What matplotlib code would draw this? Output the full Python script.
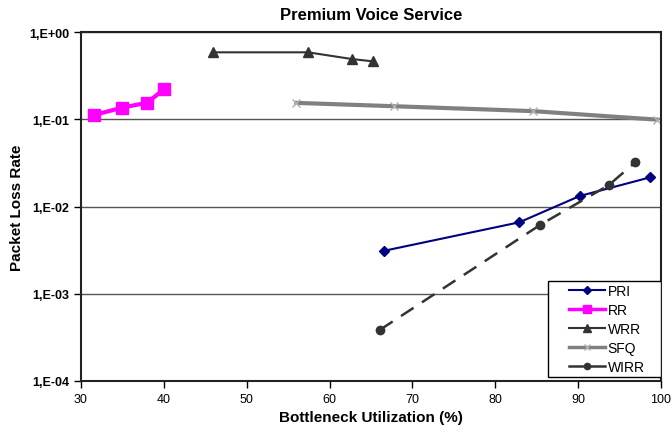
import matplotlib
matplotlib.use('Agg')
import matplotlib.pyplot as plt
from matplotlib.patches import Rectangle
from matplotlib.ticker import FixedLocator, FixedFormatter, NullLocator

plt.rcParams['font.family'] = ['Liberation Sans', 'DejaVu Sans']

# data
pri_x = [66.6, 82.9, 90.2, 98.7]
pri_y = [0.00311, 0.00659, 0.0132, 0.0216]
rr_x = [31.6, 35.0, 38.0, 40.0]
rr_y = [0.112, 0.136, 0.155, 0.220]
wrr_x = [45.9, 57.4, 62.7, 65.2]
wrr_y = [0.585, 0.585, 0.49, 0.461]
sfq_x = [56.0, 67.8, 84.5, 99.5]
sfq_y = [0.154, 0.141, 0.124, 0.099]
wirr_x = [66.1, 85.4, 93.7, 96.9]
wirr_y = [0.000387, 0.00614, 0.0176, 0.0321]

yticks = [1e-4, 1e-3, 1e-2, 1e-1, 1e0]
ylabels = ['1,E-04', '1,E-03', '1,E-02', '1,E-01', '1,E+00']
xticks = [30, 40, 50, 60, 70, 80, 90, 100]

fig = plt.figure(figsize=(6.72, 4.39), dpi=100)
ax = fig.add_axes([81/672, 1-382/439, 580/672, 349/439])

ax.plot(pri_x, pri_y, color='#000080', marker='D', ms=5, lw=1.5, label='PRI')
ax.plot(rr_x, rr_y, color='#FF00FF', marker='s', ms=8, lw=3, label='RR')
ax.plot(wrr_x, wrr_y, color='#333333', marker='^', ms=7, lw=1.5, label='WRR')
ax.plot(sfq_x, sfq_y, color='#808080', marker='x', ms=6, mec='#B0B0B0', lw=3, label='SFQ')
ax.plot(wirr_x, wirr_y, color='#333333', marker='o', ms=6, lw=1.8, dashes=(6, 4), label='WIRR')

ax.set_yscale('log')
ax.set_ylim(1e-4, 1)
ax.set_xlim(30, 100)
ax.yaxis.set_major_locator(FixedLocator(yticks))
ax.yaxis.set_major_formatter(FixedFormatter(ylabels))
ax.yaxis.set_minor_locator(NullLocator())
ax.set_xticks(xticks)
ax.grid(axis='y', color='#555555', lw=1)
for lbl in ax.get_yticklabels():
    lbl.set_fontweight('bold')
ax.tick_params(labelsize=9, direction='out', length=5, width=1)
for s in ax.spines.values():
    s.set_linewidth(1.5)
    s.set_color('#222222')

ax.set_title('Premium Voice Service', fontsize=12, fontweight='bold', pad=9)
ax.set_xlabel('Bottleneck Utilization (%)', fontsize=11, fontweight='bold')
ax.set_ylabel('Packet Loss Rate', fontsize=11, fontweight='bold')

# legend box drawn by hand so it can be as wide as the Excel one
ax.add_patch(Rectangle((0.805, 0.0115), 0.195, 0.275, transform=ax.transAxes,
                       facecolor='white', edgecolor='black', lw=1, zorder=4))
leg = ax.legend(loc='upper left', bbox_to_anchor=(0.841, 0.279), borderaxespad=0, borderpad=0,
                fontsize=10, frameon=False, markerscale=0.75,
                handlelength=2.6, handletextpad=0.2, labelspacing=0.37)
leg.set_zorder(5)
for h in leg.get_lines():
    h.set_linestyle('-')
    h.set_linewidth(min(h.get_linewidth(), 2.5))

fig.savefig('out.png', dpi=100)
